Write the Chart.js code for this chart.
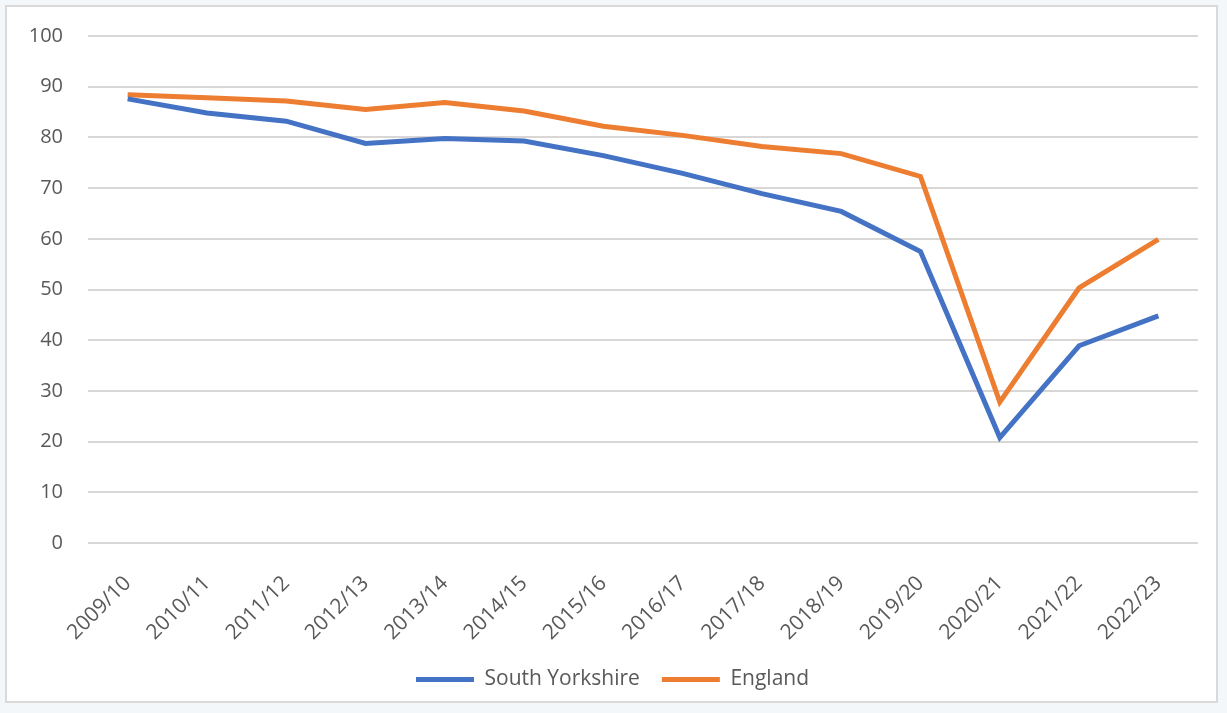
<!DOCTYPE html>
<html lang="en">
<head>
<meta charset="UTF-8">
<title>South Yorkshire vs England</title>
<script src="https://cdn.jsdelivr.net/npm/chart.js"></script>
<style>
    html, body { margin: 0; padding: 0; background: #f3f7fa; }
    .frame {
        position: absolute;
        left: 5px; top: 5px;
        width: 1209px; height: 694px;
        background: #ffffff;
        border: 2px solid #d9d9d9;
    }
    canvas { display: block; }
</style>
</head>
<body>
<div class="frame">
    <canvas id="trendChart" width="1209" height="694"></canvas>
</div>
<script>
    const years = ['2009/10', '2010/11', '2011/12', '2012/13', '2013/14', '2014/15', '2015/16',
                   '2016/17', '2017/18', '2018/19', '2019/20', '2020/21', '2021/22', '2022/23'];
    const southYorkshire = [87.6, 84.8, 83.2, 78.8, 79.8, 79.3, 76.4, 72.9, 68.9, 65.4, 57.5, 20.8, 38.9, 44.8];
    const england = [88.4, 87.8, 87.2, 85.5, 86.9, 85.2, 82.2, 80.4, 78.2, 76.8, 72.3, 27.8, 50.3, 59.9];

    const blue = '#4472c4';
    const orange = '#ed7d31';
    const grey = '#595959';

    Chart.defaults.font.family = "'Open Sans', 'Noto Sans', sans-serif";
    Chart.defaults.font.size = 20;
    Chart.defaults.color = grey;

    new Chart(document.getElementById('trendChart'), {
        type: 'line',
        data: {
            labels: years,
            datasets: [
                {
                    label: 'South Yorkshire',
                    data: southYorkshire,
                    borderColor: blue,
                    backgroundColor: blue,
                    borderWidth: 5,
                    pointRadius: 0,
                    tension: 0
                },
                {
                    label: 'England',
                    data: england,
                    borderColor: orange,
                    backgroundColor: orange,
                    borderWidth: 5,
                    pointRadius: 0,
                    tension: 0
                }
            ]
        },
        options: {
            responsive: false,
            animation: false,
            layout: { padding: { left: 20, right: 18, top: 29, bottom: 1 } },
            plugins: {
                tooltip: { enabled: false },
                legend: {
                    position: 'bottom',
                    labels: {
                        boxWidth: 58,
                        boxHeight: 5,
                        padding: 22,
                        font: { size: 21 },
                        generateLabels(chart) {
                            const items = Chart.defaults.plugins.legend.labels.generateLabels(chart);
                            items.forEach(it => { it.lineWidth = 0; });
                            return items;
                        }
                    }
                }
            },
            scales: {
                x: {
                    offset: true,
                    grid: { display: false },
                    border: { display: false },
                    ticks: { maxRotation: 45, minRotation: 45, padding: 20, font: { size: 21 } },
                    // fixed band for the slanted year labels, no extra side room
                    afterFit(scale) {
                        scale.height = 104;
                        scale.paddingLeft = 0;
                        scale.paddingRight = 0;
                    }
                },
                y: {
                    min: 0,
                    max: 100,
                    ticks: { stepSize: 10, padding: 25 },
                    grid: { color: '#d9d6d6', lineWidth: 2, drawTicks: false },
                    border: { display: false },
                    // label width + gap only; tick padding is otherwise counted twice
                    afterFit(scale) {
                        scale.width = 61;
                        scale.paddingTop = 0;
                        scale.paddingBottom = 0;
                    }
                }
            }
        }
    });
</script>
</body>
</html>
